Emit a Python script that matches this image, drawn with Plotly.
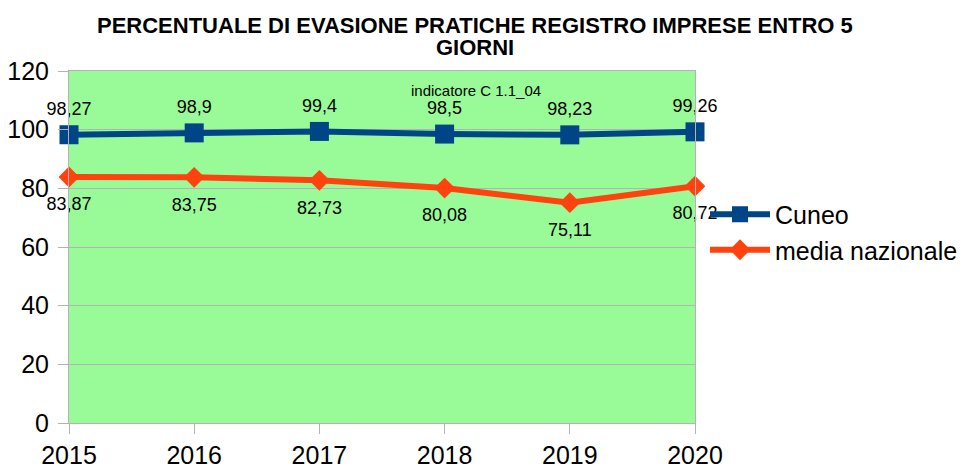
import plotly.graph_objects as go

years = [2015, 2016, 2017, 2018, 2019, 2020]
cuneo = [98.27, 98.9, 99.4, 98.5, 98.23, 99.26]
media = [83.87, 83.75, 82.73, 80.08, 75.11, 80.72]
y_ticks = [0, 20, 40, 60, 80, 100, 120]

title_lines = ["PERCENTUALE DI EVASIONE PRATICHE REGISTRO IMPRESE ENTRO 5", "GIORNI"]
note_text = "indicatore C 1.1_04"


def fmt(v):
    return f"{v:g}".replace(".", ",")


FONT = "Liberation Sans, Arial, sans-serif"
GRID = "#b3b3b3"
LABEL_FONT = dict(size=18, color="#000000", family=FONT)
TITLE_FONT = dict(size=22, family=FONT, color="#000000", weight="bold")

fig = go.Figure()
fig.add_trace(go.Scatter(
    x=years, y=cuneo, name="Cuneo", mode="lines+markers",
    line=dict(color="#004586", width=6),
    marker=dict(symbol="square", size=19, color="#004586"),
    cliponaxis=False,
))
fig.add_trace(go.Scatter(
    x=years, y=media, name="media nazionale", mode="lines+markers",
    line=dict(color="#ff420e", width=6),
    marker=dict(symbol="diamond", size=16, color="#ff420e"),
    cliponaxis=False,
))
# data labels (invisible anchor markers control the label offset)
fig.add_trace(go.Scatter(
    x=years, y=cuneo, mode="markers+text", showlegend=False, hoverinfo="skip",
    marker=dict(size=23, color="rgba(0,0,0,0)"),
    text=[fmt(v) for v in cuneo], textposition="top center", textfont=LABEL_FONT,
    cliponaxis=False,
))
fig.add_trace(go.Scatter(
    x=years, y=media, mode="markers+text", showlegend=False, hoverinfo="skip",
    marker=dict(size=30, color="rgba(0,0,0,0)"),
    text=[fmt(v) for v in media], textposition="bottom center", textfont=LABEL_FONT,
    cliponaxis=False,
))

title_annots = [
    dict(text=title_lines[0], xref="paper", yref="paper",
         x=(475 - 69) / 626, y=(423 - 25) / 352, xanchor="center", yanchor="middle",
         height=22, showarrow=False, font=TITLE_FONT),
    dict(text=title_lines[1], xref="paper", yref="paper",
         x=(475 - 69) / 626, y=(423 - 47) / 352, xanchor="center", yanchor="middle",
         height=22, showarrow=False, font=TITLE_FONT),
]

fig.update_layout(
    width=968, height=466,
    margin=dict(l=69, r=273, t=71, b=43, autoexpand=False),
    paper_bgcolor="#ffffff",
    plot_bgcolor="#98fb98",
    font=dict(family=FONT, color="#000000"),
    showlegend=True,
    legend=dict(x=1.016, xanchor="left", y=(423 - 232) / 352, yanchor="middle",
                font=dict(size=25, family=FONT), bgcolor="rgba(0,0,0,0)",
                itemwidth=60, tracegroupgap=0),
    annotations=title_annots + [
        dict(text=note_text, xref="paper", yref="paper",
             x=(476 - 69) / 626, y=(423 - 90) / 352, xanchor="center", yanchor="middle",
             showarrow=False, font=dict(size=15, family=FONT, color="#000000"))],
)
fig.update_xaxes(
    range=[2015, 2020], tickvals=years, ticktext=[str(y) for y in years],
    showgrid=False, showline=True, linecolor=GRID, linewidth=1, mirror=True,
    ticks="outside", ticklen=10, tickcolor=GRID, automargin=False,
    tickfont=dict(size=25, family=FONT, color="#000000"), zeroline=False,
)
fig.update_yaxes(
    range=[0, 120], tickvals=y_ticks,
    showgrid=True, gridcolor=GRID, gridwidth=1,
    showline=True, linecolor=GRID, linewidth=1, mirror=True,
    ticks="outside", ticklen=10, tickcolor=GRID, automargin=False, ticklabelstandoff=4,
    tickfont=dict(size=25, family=FONT, color="#000000"), zeroline=False,
)

fig.write_html("out.html", config={"displayModeBar": False},
               post_script="document.body.style.margin='0';")
